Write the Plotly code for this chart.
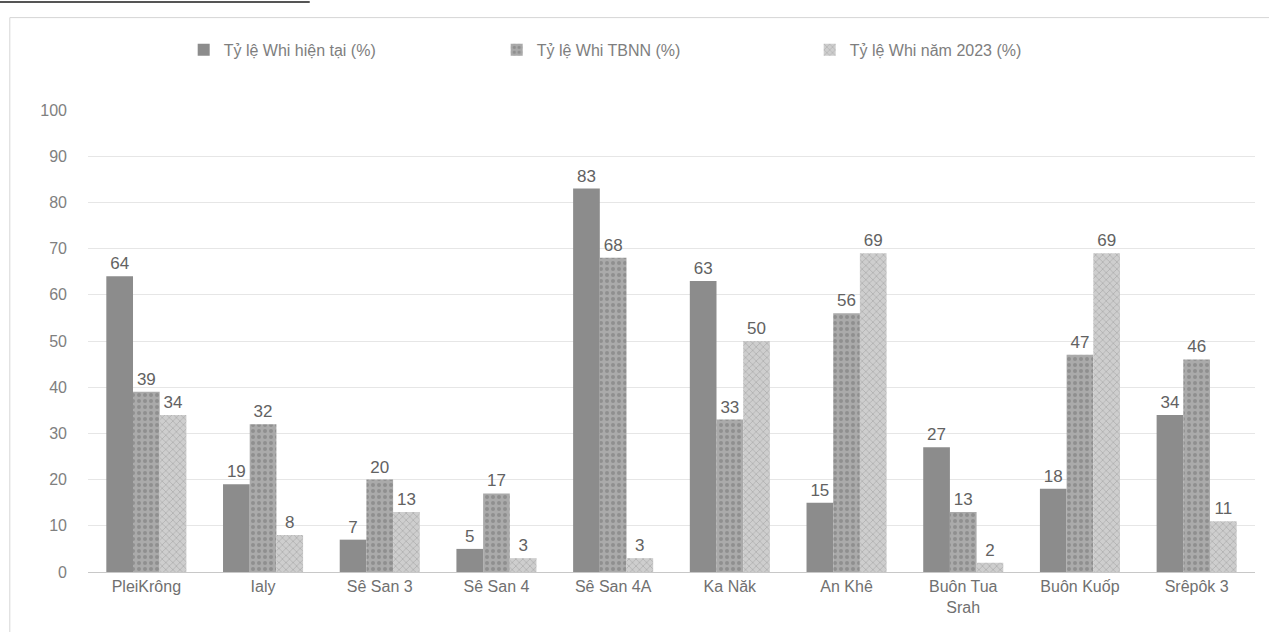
import plotly.graph_objects as go

# Reservoir names (x categories)
categories = ["PleiKrông", "Ialy", "Sê San 3", "Sê San 4", "Sê San 4A",
              "Ka Năk", "An Khê", "Buôn Tua<br>Srah", "Buôn Kuốp", "Srêpôk 3"]

# Storage ratios (%)
current_pct = [64, 19, 7, 5, 83, 63, 15, 27, 18, 34]
avg_years_pct = [39, 32, 20, 17, 68, 33, 56, 13, 47, 46]
year_2023_pct = [34, 8, 13, 3, 3, 50, 69, 2, 69, 11]

series_names = ["Tỷ lệ Whi hiện tại (%)", "Tỷ lệ Whi TBNN (%)", "Tỷ lệ Whi năm 2023 (%)"]
y_ticks = [0, 10, 20, 30, 40, 50, 60, 70, 80, 90, 100]

FONT = "Liberation Sans, Arial, sans-serif"
label_font = dict(family=FONT, size=17, color="#626262")

fig = go.Figure()
fig.add_trace(go.Bar(
    name=series_names[0], x=categories, y=current_pct,
    text=current_pct, textposition="outside",
    marker=dict(color="#8c8c8c", line=dict(width=0)),
    textfont=label_font, cliponaxis=False,
))
fig.add_trace(go.Bar(
    name=series_names[1], x=categories, y=avg_years_pct,
    text=avg_years_pct, textposition="outside",
    marker=dict(color="#a0a0a0", line=dict(width=0),
                pattern=dict(shape=".", fgcolor="#747474", bgcolor="#aaaaaa",
                             size=6, solidity=0.35)),
    textfont=label_font, cliponaxis=False,
))
fig.add_trace(go.Bar(
    name=series_names[2], x=categories, y=year_2023_pct,
    text=year_2023_pct, textposition="outside",
    marker=dict(color="#bdbdbd", line=dict(width=0),
                pattern=dict(shape="x", fgcolor="#929292", bgcolor="#cecece",
                             size=5, solidity=0.3)),
    textfont=label_font, cliponaxis=False,
))

fig.update_layout(
    width=1269, height=632,
    paper_bgcolor="white", plot_bgcolor="white",
    margin=dict(l=88, r=14, t=110, b=60),
    barmode="group", bargap=0.314, bargroupgap=0,
    font=dict(family=FONT, color="#6a6a6a"),
    legend=dict(
        orientation="h", x=0.082, xanchor="left", y=1.13, yanchor="middle",
        font=dict(family=FONT, size=16, color="#7e7e7e"),
        entrywidth=268, entrywidthmode="pixels",
        itemsizing="constant", bgcolor="rgba(0,0,0,0)",
    ),
    xaxis=dict(
        showgrid=False, showline=True, linecolor="#c8c8c8", linewidth=1,
        ticks="", tickfont=dict(family=FONT, size=16, color="#707070"),
    ),
    yaxis=dict(
        range=[0, 100], tickvals=y_ticks, showgrid=True, gridcolor="#e6e6e6",
        gridwidth=1, zeroline=False, showline=False, ticks="",
        ticklabelstandoff=20,
        tickfont=dict(family=FONT, size=16, color="#808080"),
    ),
    shapes=[
        # chart frame
        dict(type="rect", xref="paper", yref="paper",
             x0=-0.067, x1=1.02, y0=-0.17, y1=1.2,
             line=dict(color="#d6d6d6", width=1), layer="below"),
        # table border remnant above the frame
        dict(type="line", xref="paper", yref="paper",
             x0=-0.08, x1=0.19, y0=1.234, y1=1.234,
             line=dict(color="#555555", width=2)),
    ],
)

fig.write_html("out.html")
